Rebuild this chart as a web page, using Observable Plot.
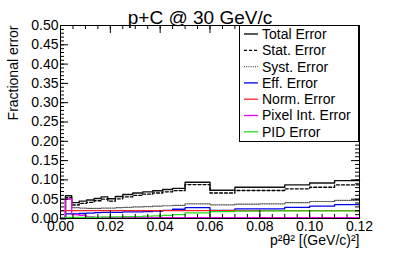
<!DOCTYPE html>
<html>
<head>
<meta charset="utf-8">
<script src="https://cdn.jsdelivr.net/npm/d3@7"></script>
<script src="https://cdn.jsdelivr.net/npm/@observablehq/plot@0.6"></script>
<style>
  html, body { margin: 0; padding: 0; background: white; }
</style>
</head>
<body>
<div id="chart"></div>
<script>
// Bin edges (p^2 theta^2, (GeV/c)^2)
const edges = [0, 0.002, 0.0045, 0.0075, 0.0105, 0.0135, 0.0163, 0.019, 0.022, 0.025, 0.029, 0.033, 0.037, 0.041, 0.045, 0.050, 0.060, 0.070, 0.080, 0.090, 0.100, 0.110, 0.120];
// Bin contents (fractional error)
const totalErr = [0, 0.059, 0.041, 0.045, 0.048, 0.052, 0.056, 0.051, 0.057, 0.062, 0.066, 0.069, 0.072, 0.075, 0.078, 0.094, 0.073, 0.081, 0.081, 0.087, 0.092, 0.098];
const statErr  = [0, 0.054, 0.035, 0.039, 0.042, 0.046, 0.050, 0.045, 0.051, 0.056, 0.060, 0.063, 0.066, 0.069, 0.072, 0.088, 0.066, 0.0725, 0.0725, 0.077, 0.081, 0.087];
const systErr  = [0, 0.051, 0.028, 0.027, 0.026, 0.026, 0.027, 0.027, 0.028, 0.029, 0.030, 0.031, 0.032, 0.033, 0.034, 0.038, 0.0355, 0.037, 0.038, 0.041, 0.044, 0.047];
const effErr   = [0, 0.012, 0.012, 0.013, 0.014, 0.015, 0.016, 0.016, 0.016, 0.017, 0.017, 0.018, 0.019, 0.021, 0.024, 0.028, 0.021, 0.025, 0.025, 0.029, 0.032, 0.036];
const normErr  = [0.0205, 0.0205, 0.0205, 0.0205, 0.0205, 0.0205, 0.0205, 0.0205, 0.0205, 0.0205, 0.0205, 0.0205, 0.0205, 0.0205, 0.0205, 0.0205, 0.0205, 0.0205, 0.0205, 0.0205, 0.0205, 0.0205];
const pixelErr = [0, 0.050, 0.010, 0.008, 0.004, 0.003, 0.002, 0.002, 0.002, 0.002, 0.002, 0.002, 0.002, 0.002, 0.002, 0.002, 0.002, 0.002, 0.002, 0.002, 0.002, 0.002];
const pidErr   = [0, 0.003, 0.003, 0.003, 0.003, 0.003, 0.004, 0.004, 0.004, 0.005, 0.005, 0.006, 0.007, 0.008, 0.010, 0.0145, 0.018, 0.019, 0.020, 0.020, 0.020, 0.020];

const seriesNames = ["Total Error", "Stat. Error", "Syst. Error", "Eff. Error", "Norm. Error", "Pixel Int. Error", "PID Error"];
const seriesValues = [totalErr, statErr, systErr, effErr, normErr, pixelErr, pidErr];

const xTickLabels = [0, 0.02, 0.04, 0.06, 0.08, 0.10, 0.12];
const yTickLabels = [0, 0.05, 0.10, 0.15, 0.20, 0.25, 0.30, 0.35, 0.40, 0.45, 0.50];
const xMinorTicks = d3.range(0, 0.12 + 1e-9, 0.005);
const yMinorTicks = d3.range(0, 0.5 + 1e-9, 0.01);

const styles = {
  "Total Error":      {stroke: "#111", dash: null, width: 1.4},
  "Stat. Error":      {stroke: "#000", dash: "3,2", width: 1.3},
  "Syst. Error":      {stroke: "#555", dash: "1,1.2", width: 1.2},
  "Eff. Error":       {stroke: "#0000ee", dash: null, width: 1.3},
  "Norm. Error":      {stroke: "#ff2020", dash: null, width: 1.3},
  "Pixel Int. Error": {stroke: "#ee00ee", dash: null, width: 1.3},
  "PID Error":        {stroke: "#22dd22", dash: null, width: 1.3}
};

function histRows(vals, name) {
  const rows = vals.map((v, i) => ({x: edges[i], y: v, s: name}));
  rows.push({x: edges[edges.length - 1], y: vals[vals.length - 1], s: name});
  return rows;
}

const W = 399, H = 257, mL = 60, mR = 40, mT = 25, mB = 39;
const pw = W - mL - mR, ph = H - mT - mB;

const lineMarks = seriesNames.map((name, k) => {
  const st = styles[name];
  return Plot.lineY(histRows(seriesValues[k], name), {
    x: "x", y: "y", curve: "step-after",
    stroke: st.stroke, strokeWidth: st.width,
    strokeDasharray: st.dash || undefined
  });
});

const chart = Plot.plot({
  width: W, height: H,
  marginLeft: mL, marginRight: mR, marginTop: mT, marginBottom: mB,
  style: {fontFamily: "'Liberation Sans', Arial, Helvetica, sans-serif", fontSize: "14px", background: "white", color: "black"},
  x: {domain: [0, 0.12]},
  y: {domain: [0, 0.5]},
  marks: [
    ...lineMarks,
    // bottom ticks (inside)
    Plot.tickX(xMinorTicks, {x: d => d, insetTop: ph - 4, stroke: "black"}),
    Plot.tickX(xTickLabels, {x: d => d, insetTop: ph - 8, stroke: "black"}),
    // top ticks
    Plot.tickX(xMinorTicks, {x: d => d, insetBottom: ph - 4, stroke: "black"}),
    Plot.tickX(xTickLabels, {x: d => d, insetBottom: ph - 8, stroke: "black"}),
    // left ticks
    Plot.tickY(yMinorTicks, {y: d => d, insetRight: pw - 4, stroke: "black"}),
    Plot.tickY(yTickLabels, {y: d => d, insetRight: pw - 8, stroke: "black"}),
    // right ticks
    Plot.tickY(yMinorTicks, {y: d => d, insetLeft: pw - 4, stroke: "black"}),
    Plot.tickY(yTickLabels, {y: d => d, insetLeft: pw - 8, stroke: "black"}),
    Plot.axisX(xTickLabels, {tickSize: 0, tickPadding: 3, tickFormat: d => d.toFixed(2), fontSize: 14, label: null}),
    Plot.axisY(yTickLabels, {tickSize: 0, tickPadding: 2, tickFormat: d => d.toFixed(2), fontSize: 14, label: null}),
    Plot.frame({stroke: "black"}),
    Plot.text(["p+C @ 30 GeV/c"], {frameAnchor: "top", dx: -10, dy: -15, fontSize: 19, fill: "black"}),
    Plot.text(["Fractional error"], {frameAnchor: "top-left", rotate: -90, textAnchor: "end", dx: -52, fontSize: 14, fill: "black"}),
    Plot.text(["p\u00B2\u03B8\u00B2 [(GeV/c)\u00B2]"], {frameAnchor: "bottom-right", textAnchor: "end", dy: 26, fontSize: 14, fill: "black"})
  ]
});

document.getElementById("chart").appendChild(chart);

// Legend box inside the frame (top-right)
const svg = d3.select(chart);
const lg = svg.append("g")
  .attr("font-family", "'Liberation Sans', Arial, Helvetica, sans-serif")
  .attr("font-size", 14)
  .attr("text-anchor", "start");
const lx0 = 239, ly0 = 25, lx1 = W - mR, ly1 = 141;
lg.append("rect").attr("x", lx0 + 0.5).attr("y", ly0 + 0.5).attr("width", lx1 - lx0 - 1).attr("height", ly1 - ly0)
  .attr("fill", "white").attr("stroke", "black");
seriesNames.forEach((name, i) => {
  const st = styles[name];
  const yy = 34 + i * 16.3;
  lg.append("line").attr("x1", 244).attr("x2", 258).attr("y1", yy).attr("y2", yy)
    .attr("stroke", st.stroke).attr("stroke-width", st.width)
    .attr("stroke-dasharray", st.dash);
  lg.append("text").attr("x", 262).attr("y", yy).attr("dy", "0.35em")
    .attr("text-anchor", "start").attr("fill", "black").text(name);
});
</script>
</body>
</html>
